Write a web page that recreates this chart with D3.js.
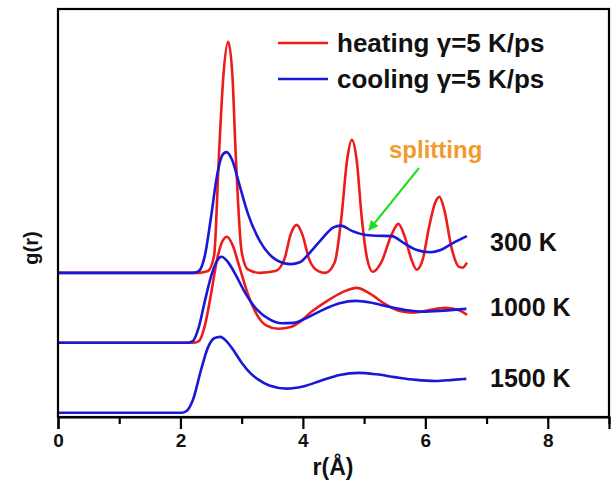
<!DOCTYPE html>
<html><head><meta charset="utf-8">
<script src="https://cdn.jsdelivr.net/npm/d3@7"></script>
<style>body{margin:0;background:#fff}svg{display:block}text{font-family:"Liberation Sans",Arial,sans-serif;font-weight:bold}</style>
</head><body>
<script>
// r (Å), g(r) pairs
const heating300 = [[0,0],[2.3,0],[2.45,0.05],[2.55,0.5],[2.63,3.4],[2.7,5.6],[2.78,6.6],[2.85,5.6],[2.9,3.5],[3.0,0.6],[3.1,0.1],[3.3,0.0],[3.55,0.05],[3.7,0.4],[3.8,1.1],[3.9,1.37],[3.99,1.1],[4.1,0.4],[4.25,0.05],[4.37,0.0],[4.52,0.3],[4.63,1.6],[4.72,3.2],[4.8,3.8],[4.88,3.2],[4.96,1.6],[5.05,0.4],[5.14,0.03],[5.28,0.3],[5.45,1.1],[5.56,1.4],[5.67,1.0],[5.77,0.4],[5.86,0.09],[5.96,0.4],[6.06,1.3],[6.16,2.0],[6.23,2.17],[6.31,1.8],[6.43,0.7],[6.55,0.17],[6.61,0.15],[6.68,0.29]];
const cooling300 = [[0,0],[2.2,0],[2.3,0.05],[2.4,0.5],[2.5,1.6],[2.6,2.8],[2.68,3.35],[2.75,3.45],[2.85,3.2],[2.95,2.6],[3.1,1.7],[3.3,0.9],[3.5,0.45],[3.7,0.27],[3.8,0.25],[3.95,0.3],[4.1,0.55],[4.3,0.95],[4.5,1.3],[4.62,1.35],[4.8,1.2],[5.0,1.09],[5.2,1.06],[5.45,1.05],[5.65,0.85],[5.85,0.66],[6.08,0.59],[6.25,0.65],[6.45,0.85],[6.68,1.05]];
const heating1000 = [[0,0],[2.2,0],[2.3,0.05],[2.4,0.5],[2.5,1.4],[2.6,2.4],[2.7,2.95],[2.76,3.03],[2.85,2.8],[2.95,2.25],[3.1,1.4],[3.25,0.8],[3.4,0.5],[3.6,0.4],[3.8,0.45],[3.95,0.6],[4.15,0.9],[4.4,1.2],[4.65,1.45],[4.88,1.57],[5.1,1.4],[5.35,1.1],[5.6,0.9],[5.8,0.86],[6.05,0.93],[6.33,1.0],[6.55,0.93],[6.68,0.8]];
const cooling1000 = [[0,0],[2.1,0],[2.2,0.05],[2.3,0.45],[2.4,1.2],[2.5,1.9],[2.6,2.35],[2.67,2.46],[2.78,2.3],[2.9,1.95],[3.05,1.45],[3.25,0.95],[3.45,0.68],[3.65,0.56],[3.85,0.57],[4.05,0.7],[4.3,0.92],[4.6,1.13],[4.86,1.2],[5.1,1.15],[5.4,1.03],[5.7,0.93],[5.95,0.89],[6.3,0.92],[6.67,0.97]];
const cooling1500 = [[0,0],[2.02,0],[2.1,0.05],[2.2,0.35],[2.34,1.25],[2.45,1.87],[2.55,2.13],[2.65,2.17],[2.75,2.05],[2.88,1.75],[3.0,1.43],[3.15,1.12],[3.28,0.94],[3.45,0.78],[3.74,0.69],[4.0,0.75],[4.3,0.92],[4.6,1.08],[4.91,1.14],[5.2,1.1],[5.5,1.02],[5.85,0.94],[6.16,0.91],[6.45,0.94],[6.67,0.97]];

const temperatures = ["300 K", "1000 K", "1500 K"];
const offsets = [4, 2, 0];           // vertical shift of each temperature's curves
const xTicks = [0,1,2,3,4,5,6,7,8,9];
const xTickLabels = ["0","","2","","4","","6","","8",""];
const legendLabels = ["heating \u03b3=5 K/ps", "cooling \u03b3=5 K/ps"];
const annotation = "splitting";

const W = 612, H = 489;
const mL = 58, mR = 609, mT = 9, mB = 417;
const RED = "#ee1b1b", BLUE = "#1818d8";

const svg = d3.select("body").append("svg").attr("width", W).attr("height", H);
const x = d3.scaleLinear().domain([0, 9]).range([mL, mR]);
const y = d3.scaleLinear().domain([-0.12, 11.54]).range([mB, mT]);

const line = off => d3.line().x(d => x(d[0])).y(d => y(d[1] + off)).curve(d3.curveMonotoneX);

const series = [
  {data: cooling1500, off: offsets[2], color: BLUE},
  {data: heating1000, off: offsets[1], color: RED},
  {data: cooling1000, off: offsets[1], color: BLUE},
  {data: heating300, off: offsets[0], color: RED},
  {data: cooling300, off: offsets[0], color: BLUE}
];
svg.append("g").selectAll("path").data(series).join("path")
  .attr("d", s => line(s.off)(s.data))
  .attr("fill", "none").attr("stroke", s => s.color).attr("stroke-width", 2.6)
  .attr("stroke-linejoin", "round");

// frame
svg.append("rect").attr("x", mL).attr("y", mT).attr("width", mR - mL).attr("height", mB - mT)
  .attr("fill", "none").attr("stroke", "#000").attr("stroke-width", 2.2);

// x axis
const xa = svg.append("g").attr("transform", `translate(0,${mB})`)
  .call(d3.axisBottom(x).tickValues(xTicks).tickFormat((d, i) => xTickLabels[i]).tickSizeOuter(0).tickSize(12).tickPadding(5));
xa.select(".domain").attr("stroke-width", 2.2);
xa.selectAll(".tick line").attr("stroke-width", 2.2).attr("y2", (d, i) => i % 2 ? 7 : 12);
xa.selectAll(".tick text").attr("font-size", 19).attr("font-family", "Liberation Sans, Arial, sans-serif").attr("font-weight", "bold").attr("fill", "#111");

svg.append("text").attr("x", 333).attr("y", 475).attr("text-anchor", "middle").attr("font-size", 23).attr("fill", "#111").text("r(\u00c5)");
svg.append("text").attr("transform", "translate(38,248) rotate(-90)").attr("text-anchor", "middle").attr("font-size", 20).attr("fill", "#111").text("g(r)");

// temperature labels
const labY = [242, 307, 378];
svg.append("g").selectAll("text").data(temperatures).join("text")
  .attr("x", 490).attr("y", (d, i) => labY[i]).attr("dy", "0.36em").attr("font-size", 25).attr("fill", "#111").text(d => d);

// legend
const lg = svg.append("g");
[RED, BLUE].forEach((c, i) => {
  const ly = 43 + i * 36;
  lg.append("line").attr("x1", 278).attr("x2", 328).attr("y1", ly).attr("y2", ly).attr("stroke", c).attr("stroke-width", 2.6);
  lg.append("text").attr("x", 337).attr("y", ly).attr("dy", "0.36em").attr("font-size", 26).attr("fill", "#111").text(legendLabels[i]);
});

// annotation
svg.append("text").attr("x", 389).attr("y", 149).attr("dy", "0.36em").attr("font-size", 24).attr("fill", "#f39a2e").text(annotation);
svg.append("defs").append("marker").attr("id", "ah").attr("viewBox", "0 0 10 10").attr("refX", 9).attr("refY", 5)
  .attr("markerWidth", 5).attr("markerHeight", 5).attr("orient", "auto")
  .append("path").attr("d", "M0,0L10,5L0,10z").attr("fill", "#22dd22");
svg.append("line").attr("x1", 419).attr("y1", 168).attr("x2", 369).attr("y2", 230)
  .attr("stroke", "#22dd22").attr("stroke-width", 2).attr("marker-end", "url(#ah)");
</script>
</body></html>
